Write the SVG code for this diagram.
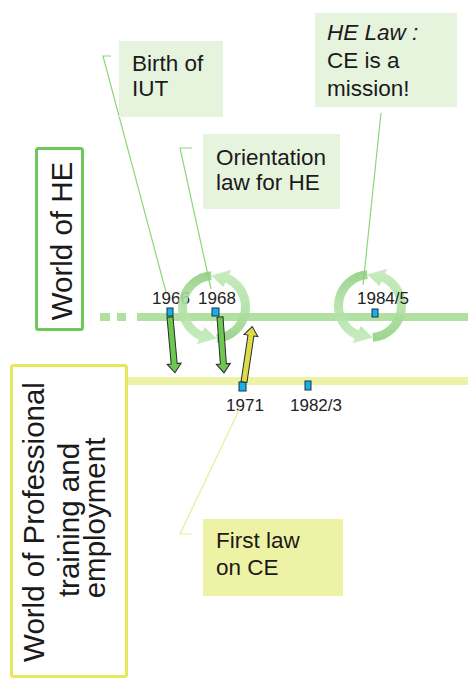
<svg xmlns="http://www.w3.org/2000/svg" width="468" height="680" viewBox="0 0 468 680">
<style>
.t{font-family:"Liberation Sans",Arial,sans-serif;fill:#1a1a1a}
.yr{font-family:"Liberation Sans",Arial,sans-serif;font-size:17px;fill:#222;text-anchor:middle}
.big{font-family:"Liberation Sans",Arial,sans-serif;font-size:29.5px;fill:#1a1a1a;text-anchor:middle}
.cb{font-size:22.5px}
.gbox{fill:#e6f4de}
.ybox{fill:#eef2a4}
.gl{fill:none;stroke:#8cd67c;stroke-width:1.2}
.yl{fill:none;stroke:#e8ec9c;stroke-width:1.2}
.mk{fill:#18b0ea;stroke:#1a3340;stroke-width:1}
.ga{fill:#6cc850;stroke:#2a2a2a;stroke-width:1}
.ya{fill:#dcdc48;stroke:#2a2a2a;stroke-width:1}
.cyc{fill:url(#cg);opacity:0.9}
</style>
<defs>
<linearGradient id="cg" x1="0" y1="0" x2="0" y2="1">
<stop offset="0" stop-color="#8ecf80"/>
<stop offset="0.4" stop-color="#acdea0"/>
<stop offset="1" stop-color="#c2e9b8"/>
</linearGradient>
<path id="cyc" d="M -3.14 -35.86 A 36 36 0 0 0 -15.21 32.63 L -17.33 37.16 L 2.75 31.38 L -9.30 19.94 L -11.41 24.47 A 27 27 0 0 1 -2.35 -26.90 Z"/>
<g id="arrowDown"><path d="M -3 0 L 3 0 L 3 47 L 7 47 L 0 56 L -7 47 L -3 47 Z"/></g>
</defs>

<g id="timelines">
<rect x="100" y="313" width="10" height="8" fill="#b0e1a3"/>
<rect x="117" y="313" width="9" height="8" fill="#b0e1a3"/>
<rect x="137" y="313" width="331" height="8" fill="#b0e1a3"/>
<rect x="128" y="377" width="340" height="8" fill="#eef2a8"/>
</g>

<g id="world-he">
<rect x="36.5" y="148.5" width="46" height="181" rx="2" fill="#fff" stroke="#6cc85a" stroke-width="3"/>
<text class="big" x="72" y="241" transform="rotate(-90 72 241)">World of HE</text>
</g>

<g id="world-prof">
<rect x="11.5" y="365.5" width="115" height="311" rx="2" fill="#fff" stroke="#e6e85a" stroke-width="3"/>
<text class="big" x="44" y="522" transform="rotate(-90 44 522)">World of Professional</text>
<text class="big" x="79" y="520" transform="rotate(-90 79 520)">training and</text>
<text class="big" x="105" y="518" transform="rotate(-90 105 518)">employment</text>
</g>

<g id="label-1966">
<text class="yr" x="171" y="304">1966</text>
</g>

<g id="cycle-1968" transform="translate(214 307)">
<use href="#cyc" class="cyc"/>
<use href="#cyc" class="cyc" transform="rotate(180)"/>
</g>
<g id="cycle-1984" transform="translate(370 306)">
<use href="#cyc" class="cyc"/>
<use href="#cyc" class="cyc" transform="rotate(180)"/>
</g>

<g id="years">
<text class="yr" x="217" y="304">1968</text>
<text class="yr" x="383" y="304">1984/5</text>
<text class="yr" x="245" y="411">1971</text>
<text class="yr" x="316" y="411">1982/3</text>
</g>

<g id="markers">
<rect class="mk" x="167" y="308" width="6" height="8"/>
<rect class="mk" x="212" y="308" width="7" height="8"/>
<rect class="mk" x="372" y="309" width="6" height="8"/>
<rect class="mk" x="239" y="382" width="7" height="9"/>
<rect class="mk" x="305" y="381" width="6" height="9"/>
</g>

<g id="connectors">
<use href="#arrowDown" class="ga" transform="translate(170 317) rotate(-5.1)"/>
<use href="#arrowDown" class="ga" transform="translate(220 317) rotate(-4.1)"/>
<use href="#arrowDown" class="ya" transform="translate(244 382) rotate(188.5)"/>
<polyline class="gl" points="111,56 103,56 166,292"/>
<polyline class="gl" points="192,148 180,148 211,289"/>
<polyline class="gl" points="381,113 363,285"/>
<polyline class="yl" points="192,534 180,534 240,408"/>
</g>

<g id="birth-iut">
<rect class="gbox" x="119" y="41" width="104" height="76"/>
<text class="t cb" x="132" y="71">Birth of</text>
<text class="t cb" x="132" y="96">IUT</text>
</g>

<g id="orientation-law">
<rect class="gbox" x="203" y="134" width="137" height="75"/>
<text class="t cb" x="216" y="165">Orientation</text>
<text class="t cb" x="216" y="190">law for HE</text>
</g>

<g id="he-law">
<rect class="gbox" x="315" y="13" width="142" height="94"/>
<text class="t cb" x="327" y="40" font-style="italic">HE Law :</text>
<text class="t cb" x="327" y="68">CE is a</text>
<text class="t cb" x="327" y="96">mission!</text>
</g>

<g id="first-law">
<rect class="ybox" x="203" y="519" width="140" height="77"/>
<text class="t cb" x="216" y="548">First law</text>
<text class="t cb" x="216" y="575">on CE</text>
</g>
</svg>
